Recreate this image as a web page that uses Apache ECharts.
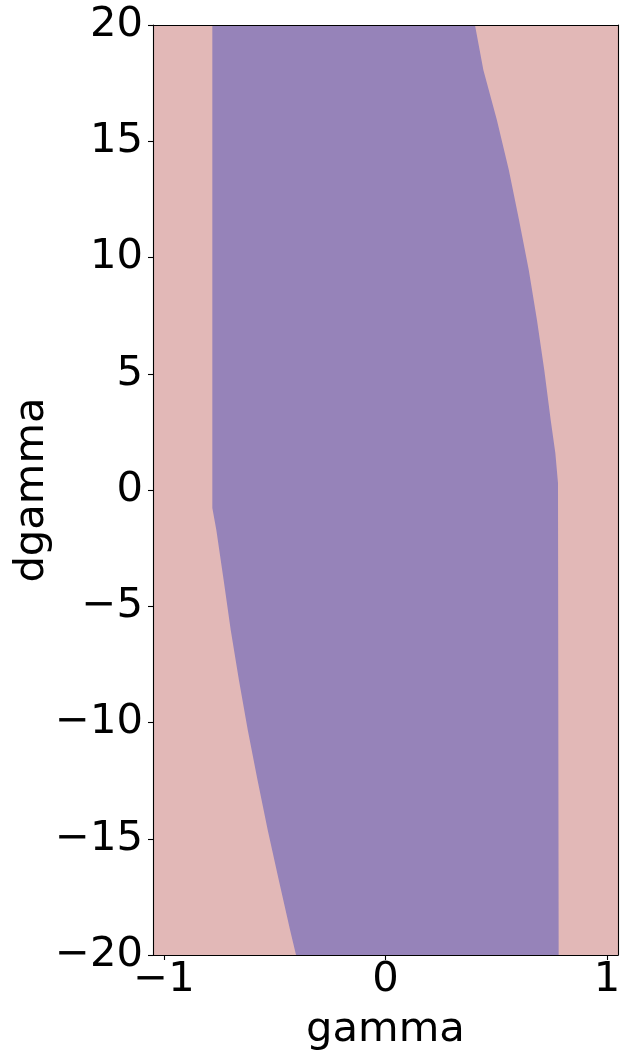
<!DOCTYPE html>
<html>
<head>
<meta charset="utf-8">
<script src="https://cdn.jsdelivr.net/npm/echarts@6/dist/echarts.min.js"></script>
<style>
  html, body { margin: 0; padding: 0; background: #fff; }
  #chart { width: 630px; height: 1060px; }
</style>
</head>
<body>
<div id="chart"></div>
<script>
// ===== datos =====
// borde derecho de la región (gamma vs dgamma), de arriba hacia abajo
const rightDg = [20, 18.06, 15.91, 13.76, 11.61, 9.46, 7.31, 5.16, 3.01, 1.59, 0.3, -20];
const rightG = [0.404, 0.442, 0.503, 0.557, 0.603, 0.647, 0.684, 0.717, 0.746, 0.767, 0.779, 0.782];
// borde izquierdo, de abajo hacia arriba
const leftDg = [-20, -18.92, -16.77, -14.62, -12.47, -10.32, -8.17, -6.02, -3.87, -1.72, -0.77, 20];
const leftG = [-0.404, -0.431, -0.482, -0.532, -0.578, -0.622, -0.662, -0.699, -0.731, -0.764, -0.782, -0.782];

const xTicks = [-1, 0, 1];

// ---- colores / estilo ----
const PINK = '#e2b8b7';
const PURPLE = '#9683b9';
const FONT = 'DejaVu Sans';
const FS = 41.7;
const minus = v => String(v).replace('-', '\u2212');

// polígono: borde derecho bajando + borde izquierdo subiendo
const poly = rightG.map((g, i) => [g, rightDg[i]])
  .concat(leftG.map((g, i) => [g, leftDg[i]]));

const chart = echarts.init(document.getElementById('chart'), null, { renderer: 'canvas' });

const hiddenAxis = { axisLabel: { show: false }, axisTick: { show: false }, splitLine: { show: false } };
const line = { show: true, onZero: false, lineStyle: { color: '#000', width: 1.1 } };

chart.setOption({
  animation: false,
  backgroundColor: '#fff',
  grid: {
    left: 153, right: 12, top: 25, bottom: 105,
    show: true, backgroundColor: PINK, borderWidth: 0,
    containLabel: false, outerBoundsMode: 'none',
  },
  xAxis: [{
    type: 'value', min: -1.05, max: 1.05, z: 10,
    name: 'gamma', nameLocation: 'middle', nameGap: 54, nameMoveOverlap: false,
    nameTextStyle: { fontFamily: FONT, fontSize: FS, color: '#000' },
    axisLine: line,
    axisTick: { show: true, length: 5, customValues: xTicks, lineStyle: { color: '#000', width: 1.1 } },
    axisLabel: { show: true, customValues: xTicks, margin: 4, formatter: minus,
      fontFamily: FONT, fontSize: FS, color: '#000' },
    splitLine: { show: false },
  }, Object.assign({
    type: 'value', min: -1.05, max: 1.05, position: 'top', z: 10, axisLine: line,
  }, hiddenAxis)],
  yAxis: [{
    type: 'value', min: -20, max: 20, interval: 5, z: 10,
    name: 'dgamma', nameLocation: 'middle', nameGap: 100, nameMoveOverlap: false,
    nameTextStyle: { fontFamily: FONT, fontSize: FS, color: '#000' },
    axisLine: line,
    axisTick: { show: true, length: 5, lineStyle: { color: '#000', width: 1.1 } },
    axisLabel: { show: true, margin: 10, formatter: minus,
      fontFamily: FONT, fontSize: FS, color: '#000' },
    splitLine: { show: false },
  }, Object.assign({
    type: 'value', min: -20, max: 20, position: 'right', z: 10, axisLine: line,
  }, hiddenAxis)],
  series: [{
    type: 'custom',
    xAxisIndex: 0, yAxisIndex: 0,
    clip: true,
    data: poly,
    encode: { x: 0, y: 1 },
    renderItem(params, api) {
      if (params.dataIndex !== 0) return null;
      return {
        type: 'polygon',
        shape: { points: poly.map(p => api.coord(p)) },
        style: { fill: PURPLE, stroke: null },
      };
    },
  }],
});
</script>
</body>
</html>
